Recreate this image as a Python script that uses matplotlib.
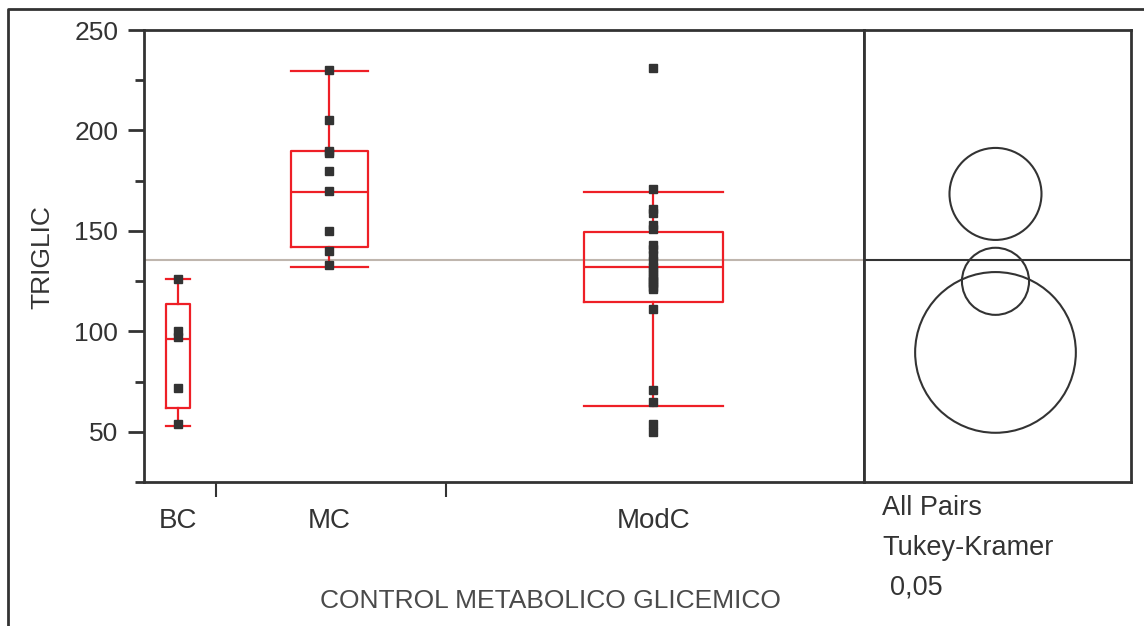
import numpy as np
import matplotlib
matplotlib.use("Agg")
import matplotlib.pyplot as plt
from matplotlib.patches import Circle
from matplotlib.lines import Line2D
from matplotlib.ticker import MultipleLocator

plt.rcParams.update({"font.family": ["Liberation Sans", "DejaVu Sans"],
                     "font.size": 19})

INK = "#333333"; RED = "#ee1f26"; TAN = "#bfb6ae"

# ---------------- data ----------------
groups = ["BC", "MC", "ModC"]
n_obs = [5, 16, 29]                     # x width of each group is proportional to n
whis_lo = [53, 132, 63]
q1 = [62, 142, 114.5]
median = [96, 169.5, 132]
q3 = [113.5, 190, 149.5]
whis_hi = [126, 229.5, 169.5]

pts_bc = [126, 100, 97, 72, 54]
pts_mc = [230, 205, 190, 189, 180, 170, 150, 140, 133]
pts_modc = [231, 171, 161, 159, 153, 151, 143, 141, 138, 135, 132, 130,
            128, 126, 125, 124, 122, 121, 111, 71, 65, 54, 50]

circle_mean = [89.5, 168.4, 124.9]      # Tukey-Kramer comparison circles
circle_rad = [40.0, 22.9, 16.7]
grand_mean = 135.5

W, H = 1144, 626
fig = plt.figure(figsize=(W / 100, H / 100), dpi=100)

def px(x0, y0, x1, y1):
    return [x0 / W, 1 - y1 / H, (x1 - x0) / W, (y1 - y0) / H]

ax = fig.add_axes(px(144, 30, 864, 482))
axc = fig.add_axes(px(864, 30, 1131, 482))

edges = np.concatenate([[0], np.cumsum(n_obs)])
centers = (edges[:-1] + edges[1:]) / 2 - 0.12
widths = np.array(n_obs) / 3

# ---------------- box plots ----------------
stats = [dict(whislo=a, q1=b, med=c, q3=d, whishi=e, label=g)
         for a, b, c, d, e, g in zip(whis_lo, q1, median, q3, whis_hi, groups)]
lp = dict(color=RED, lw=1.6)
ax.bxp(stats, positions=centers, widths=widths, capwidths=widths,
       showfliers=False, boxprops=lp, whiskerprops=lp, capprops=lp,
       medianprops=lp, manage_ticks=False)
ax.axhline(grand_mean, color=TAN, lw=1.5, zorder=1)
for cx, pts in zip(centers, [pts_bc, pts_mc, pts_modc]):
    ax.plot(np.full(len(pts), cx), pts, "s", color=INK, ms=5.6, zorder=5)

ax.set_xlim(edges[0], edges[-1])
ax.set_ylim(25, 250)
ax.yaxis.set_major_locator(MultipleLocator(50))
ax.yaxis.set_minor_locator(MultipleLocator(25))
ax.tick_params(axis="y", which="major", length=11.5, width=2, color=INK,
               labelcolor=INK, pad=7)
ax.tick_params(axis="y", which="minor", length=6.5, width=2, color=INK)
ax.set_xticks(centers, groups)
ax.set_xticks(edges[1:-1], minor=True)
ax.tick_params(axis="x", which="major", length=0, pad=19, labelcolor=INK,
               labelsize=20)
ax.tick_params(axis="x", which="minor", length=11, width=1.5, color=INK)
for s in ax.spines.values():
    s.set_color(INK); s.set_linewidth(2)

# ---------------- comparison circles ----------------
cw = 267 * 225 / 452
axc.set_xlim(0, cw); axc.set_ylim(25, 250)
axc.axhline(grand_mean, color=INK, lw=1.5)
for m, r in zip(circle_mean, circle_rad):
    axc.add_patch(Circle((cw / 2 - 1.0, m), r, fill=False, ec=INK, lw=1.5))
axc.set_xticks([]); axc.set_yticks([])
for s in axc.spines.values():
    s.set_color(INK); s.set_linewidth(2)

# ---------------- labels ----------------
fig.text(42 / W, 1 - 257 / H, "TRIGLIC", rotation=90, ha="center",
         va="center", color=INK)
fig.text(550 / W, 1 - 601 / H, "CONTROL METABOLICO GLICEMICO", ha="center",
         va="center", color="#4a4a4a", fontsize=19)
fig.text(882 / W, 1 - 508 / H, "All Pairs", va="center", color=INK, fontsize=19.5)
fig.text(882 / W, 1 - 548 / H, "Tukey-Kramer", va="center", color=INK, fontsize=19.5)
fig.text(890 / W, 1 - 587 / H, "0,05", va="center", color=INK, fontsize=19.5)

# outer frame (left and top edges)
fig.add_artist(Line2D([8 / W, 8 / W, 1], [0, 1 - 9 / H, 1 - 9 / H],
                      color=INK, lw=2))

fig.savefig("out.png", dpi=100, facecolor="white")
